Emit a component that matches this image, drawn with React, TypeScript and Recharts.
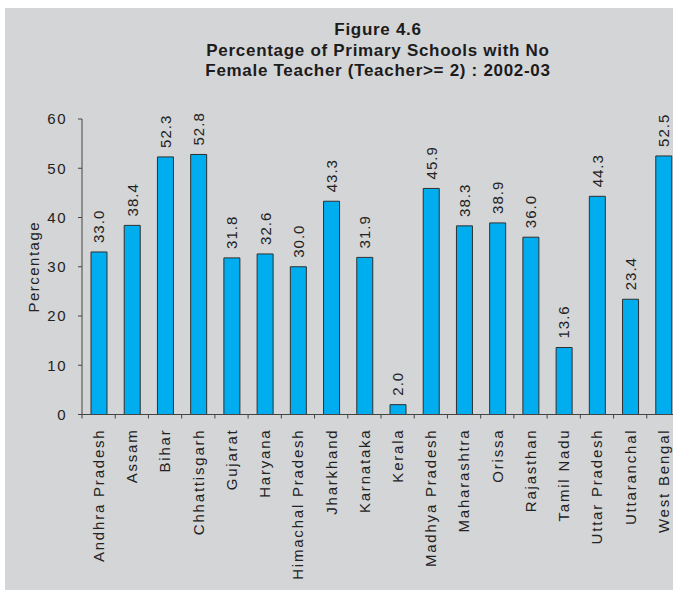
import React from "react";
import { BarChart, Bar, XAxis, YAxis, LabelList } from "recharts";

const states = [
  "Andhra Pradesh", "Assam", "Bihar", "Chhattisgarh", "Gujarat", "Haryana",
  "Himachal Pradesh", "Jharkhand", "Karnataka", "Kerala", "Madhya Pradesh",
  "Maharashtra", "Orissa", "Rajasthan", "Tamil Nadu", "Uttar Pradesh",
  "Uttaranchal", "West Bengal",
];
const percentages = [
  33.0, 38.4, 52.3, 52.8, 31.8, 32.6, 30.0, 43.3, 31.9, 2.0, 45.9, 38.3,
  38.9, 36.0, 13.6, 44.3, 23.4, 52.5,
];
const yTicks = [0, 10, 20, 30, 40, 50, 60];
const titleLines = [
  "Figure 4.6",
  "Percentage of Primary Schools with No",
  "Female Teacher (Teacher>= 2) : 2002-03",
];
const yLabel = "Percentage";

const data = states.map((s, i) => ({ state: s, value: percentages[i] }));

const FONT = "'Liberation Sans', Arial, Helvetica, sans-serif";
const TEXT = "#222";
const AXIS = "#444";
const CHART_W = 690;
const CHART_H = 582;
const MARGIN = { top: 111, right: 15, left: 0, bottom: 0 };
const Y_W = 77;
const HALF_BAND = (CHART_W - Y_W - MARGIN.left - MARGIN.right) / states.length / 2;

const XTick = (props: any) => {
  const { x, y, payload, index } = props;
  return (
    <g>
      <line x1={x - HALF_BAND} x2={x - HALF_BAND} y1={y} y2={y + 4} stroke={AXIS} />
      {index === states.length - 1 && (
        <line x1={x + HALF_BAND} x2={x + HALF_BAND} y1={y} y2={y + 4} stroke={AXIS} />
      )}
      <text
        x={x}
        y={y + 14}
        dy="0.36em"
        transform={`rotate(-90, ${x}, ${y + 14})`}
        textAnchor="end"
        fontSize={15}
        fontFamily={FONT}
        fill={TEXT}
        style={{ letterSpacing: "1.8px" }}
      >
        {payload.value}
      </text>
    </g>
  );
};

const YTick = (props: any) => {
  const { x, y, payload } = props;
  return (
    <text
      x={x}
      y={y}
      dy="0.36em"
      textAnchor="end"
      fontSize={15}
      fontFamily={FONT}
      fill={TEXT}
      style={{ letterSpacing: "1.5px" }}
    >
      {payload.value}
    </text>
  );
};

const ValueLabel = (props: any) => {
  const { x, y, width, value } = props;
  const cx = x + width / 2;
  const cy = y - 9;
  return (
    <text
      x={cx}
      y={cy}
      dy="0.36em"
      transform={`rotate(-90, ${cx}, ${cy})`}
      textAnchor="start"
      fontSize={15}
      fontFamily={FONT}
      fill={TEXT}
      style={{ letterSpacing: "1px" }}
    >
      {Number(value).toFixed(1)}
    </text>
  );
};

const YAxisLabel = (props: any) => {
  const { viewBox } = props;
  const cx = 33.5;
  const cy = viewBox.y + viewBox.height / 2;
  return (
    <text
      x={cx}
      y={cy}
      transform={`rotate(-90, ${cx}, ${cy})`}
      textAnchor="middle"
      fontSize={15}
      fontFamily={FONT}
      fill={TEXT}
      style={{ letterSpacing: "1.5px" }}
    >
      {yLabel}
    </text>
  );
};

export default function App() {
  return (
    <div
      style={{
        position: "absolute",
        left: 5,
        top: 8,
        width: 668,
        height: CHART_H,
        overflow: "hidden",
        background: "#d4d5d7",
      }}
    >
      <div
        style={{
          position: "absolute",
          left: 0,
          top: 12,
          width: 746,
          textAlign: "center",
          fontFamily: FONT,
          fontWeight: "bold",
          fontSize: 17,
          lineHeight: "20.5px",
          color: "#1c1c1c",
          letterSpacing: "0.7px",
        }}
      >
        {titleLines.map((t) => (
          <div key={t}>{t}</div>
        ))}
      </div>
      <BarChart width={CHART_W} height={CHART_H} data={data} margin={MARGIN}>
        <XAxis
          dataKey="state"
          interval={0}
          height={CHART_H - 406.5}
          tickLine={false}
          tickSize={0}
          tickMargin={0}
          axisLine={{ stroke: AXIS, strokeWidth: 1 }}
          tick={<XTick />}
        />
        <YAxis
          width={Y_W}
          domain={[0, 60]}
          ticks={yTicks}
          interval={0}
          tickSize={4}
          tickMargin={11}
          tickLine={{ stroke: AXIS }}
          axisLine={{ stroke: AXIS, strokeWidth: 1 }}
          tick={<YTick />}
          label={<YAxisLabel />}
        />
        <Bar
          dataKey="value"
          fill="#00aeef"
          stroke="#2f2f2f"
          strokeWidth={1}
          barSize={16}
          isAnimationActive={false}
        >
          <LabelList dataKey="value" content={<ValueLabel />} />
        </Bar>
      </BarChart>
    </div>
  );
}
